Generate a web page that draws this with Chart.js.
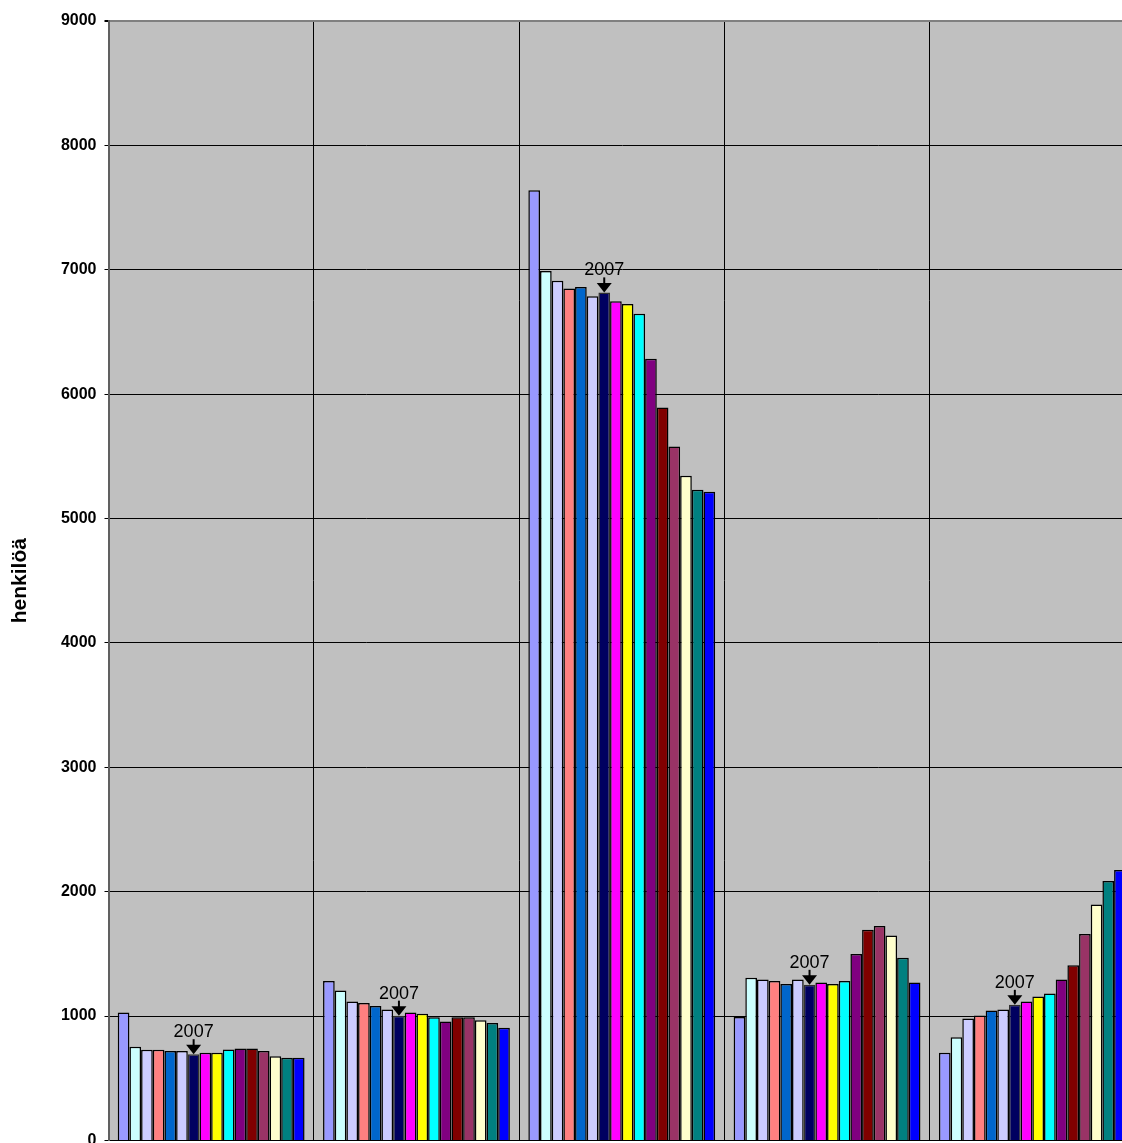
<!DOCTYPE html>
<html>
<head>
<meta charset="utf-8">
<script src="https://cdn.jsdelivr.net/npm/chart.js@4.4.1/dist/chart.umd.min.js"></script>
<style>
  html, body { margin: 0; padding: 0; background: #ffffff; overflow: hidden; }
  #wrap { width: 1135px; height: 1158px; position: relative; }
</style>
</head>
<body>
<div id="wrap"><canvas id="c" width="1135" height="1158"></canvas></div>
<script>
// Age groups (x categories; labels are below the visible area)
const categories = ["0-6", "7-15", "16-64", "65-74", "75-"];

// Series names (years); the 7th series is 2007
const seriesNames = ["2001","2002","2003","2004","2005","2006","2007","2008","2009","2010","2011","2012","2013","2014","2015","2016"];

const seriesColors = ["#9999FF","#CCFFFF","#CCCCFF","#FF8080","#0066CC","#CCCCFF","#000060","#FF00FF",
                      "#FFFF00","#00FFFF","#800080","#800000","#993366","#FFFFCC","#008080","#0000FF"];

// Values per series, one value per category
const s01 = [1028, 1281, 7639,  993,  704];
const s02 = [ 752, 1205, 6990, 1307,  830];
const s03 = [ 728, 1117, 6912, 1294,  980];
const s04 = [ 728, 1104, 6850, 1281, 1004];
const s05 = [ 718, 1080, 6861, 1257, 1044];
const s06 = [ 718, 1053, 6786, 1294, 1052];
const s07 = [ 693, 1003, 6818, 1251, 1090];
const s08 = [ 704, 1028, 6746, 1270, 1117];
const s09 = [ 704, 1018, 6724, 1257, 1157];
const s10 = [ 730,  991, 6647, 1281, 1181];
const s11 = [ 739,  956, 6285, 1498, 1294];
const s12 = [ 739,  991, 5893, 1693, 1409];
const s13 = [ 718,  991, 5579, 1723, 1659];
const s14 = [ 677,  967, 5344, 1648, 1897];
const s15 = [ 664,  943, 5231, 1468, 2085];
const s16 = [ 664,  905, 5215, 1270, 2174];
const seriesValues = [s01,s02,s03,s04,s05,s06,s07,s08,s09,s10,s11,s12,s13,s14,s15,s16];

const yTicks = [0,1000,2000,3000,4000,5000,6000,7000,8000,9000];
const yTickLabels = ["0","1000","2000","3000","4000","5000","6000","7000","8000","9000"];
const yTitle = "henkilöä";
const markerSeries = 6;      // index of the 2007 series
const markerText = "2007";

const datasets = seriesValues.map((vals, i) => ({
  label: seriesNames[i],
  data: vals,
  backgroundColor: seriesColors[i],
  borderColor: i === markerSeries ? "#303030" : "#000000",
  borderWidth: 1.5,
  categoryPercentage: 0.91,
  barPercentage: 1.0
}));

const bgPlugin = {
  id: "plotBg",
  beforeDraw(chart) {
    const a = chart.chartArea, ctx = chart.ctx;
    ctx.save();
    ctx.fillStyle = "#C0C0C0";
    ctx.fillRect(a.left, a.top, a.right - a.left, a.bottom - a.top);
    ctx.restore();
  }
};

const markerPlugin = {
  id: "marker2007",
  afterDatasetsDraw(chart) {
    const meta = chart.getDatasetMeta(markerSeries);
    const ctx = chart.ctx;
    ctx.save();
    meta.data.forEach(el => {
      const x = el.x, top = el.y;
      ctx.strokeStyle = "#000000";
      ctx.lineWidth = 2;
      ctx.beginPath();
      ctx.moveTo(x, top - 15);
      ctx.lineTo(x, top - 7);
      ctx.stroke();
      ctx.fillStyle = "#000000";
      ctx.beginPath();
      ctx.moveTo(x - 7.5, top - 9.5);
      ctx.lineTo(x + 7.5, top - 9.5);
      ctx.lineTo(x, top);
      ctx.closePath();
      ctx.fill();
      ctx.font = "18px 'Liberation Sans', Arial, sans-serif";
      ctx.textAlign = "center";
      ctx.textBaseline = "alphabetic";
      ctx.fillText(markerText, x, top - 17);
    });
    ctx.restore();
  }
};

new Chart(document.getElementById("c"), {
  type: "bar",
  data: { labels: categories, datasets: datasets },
  options: {
    responsive: false,
    animation: false,
    devicePixelRatio: 1,
    layout: { padding: { top: 21, right: 0, bottom: 0, left: 0 } },
    plugins: { legend: { display: false }, tooltip: { enabled: false } },
    scales: {
      x: {
        offset: true,
        ticks: { display: false },
        grid: { offset: true, color: "#000000", lineWidth: 1, drawTicks: false },
        border: { display: true, color: "#000000", width: 1 },
        afterFit(s) { s.height = 3.5; }
      },
      y: {
        min: 0,
        max: 9000,
        afterBuildTicks(s) { s.ticks = yTicks.map(v => ({ value: v })); },
        ticks: {
          color: "#000000",
          padding: 8,
          callback: (v) => yTickLabels[yTicks.indexOf(v)],
          font: { family: "'Liberation Sans', Arial, sans-serif", size: 16, weight: "bold" }
        },
        grid: {
          color: ctx => (ctx.tick && ctx.tick.value === 9000) ? "#808080" : "#000000",
          lineWidth: ctx => (ctx.tick && ctx.tick.value === 9000) ? 2 : 1,
          tickLength: 4,
          tickColor: "#000000"
        },
        border: { display: true, color: "#606060", width: 2 },
        title: {
          display: true,
          text: yTitle,
          color: "#000000",
          padding: { top: 8, bottom: 0 },
          font: { family: "'Liberation Sans', Arial, sans-serif", size: 21, weight: "bold" }
        },
        afterFit(s) { s.width = 108.5; }
      }
    }
  },
  plugins: [bgPlugin, markerPlugin]
});
</script>
</body>
</html>
